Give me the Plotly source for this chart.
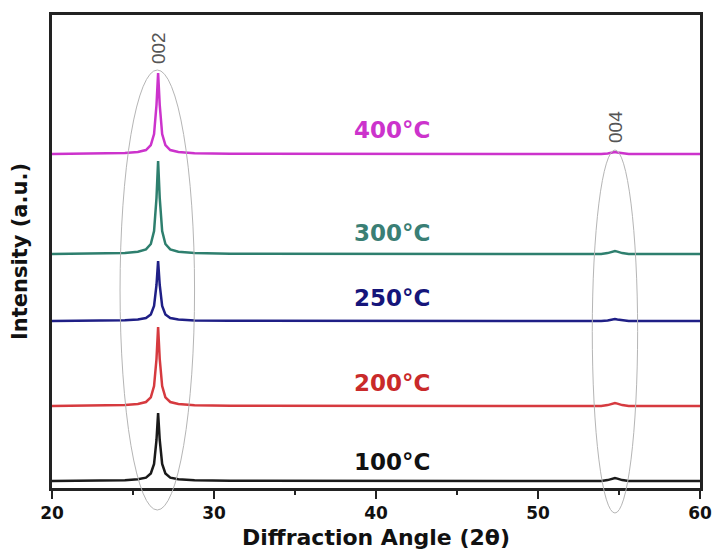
import plotly.graph_objects as go

# 2-theta sample points (degrees)
two_theta = [20, 23, 24.5, 25.3, 25.8, 26.1, 26.3, 26.45, 26.55, 26.65, 26.8, 27.0, 27.3,
             27.8, 28.8, 31, 40, 50, 53.9, 54.3, 54.6, 54.75, 54.9, 55.2, 55.6, 60]

labels = ["100°C", "200°C", "250°C", "300°C", "400°C"]
offsets = [0, 75, 160, 227, 327]

i_100 = [0, 0.3, 0.8, 1.7, 3.4, 7.5, 17, 41, 68, 41, 17, 7.5, 3.4, 1.7, 0.7, 0.2, 0, 0, 0, 0.9, 2.4, 3, 2.4, 0.9, 0, 0]
i_200 = [0, 0.4, 0.9, 2, 4, 8.7, 20, 47, 79, 47, 20, 8.7, 4, 2, 0.8, 0.2, 0, 0, 0, 0.9, 2.4, 3, 2.4, 0.9, 0, 0]
i_250 = [0, 0.3, 0.7, 1.5, 3, 6.6, 15, 36, 60, 36, 15, 6.6, 3, 1.5, 0.6, 0.2, 0, 0, 0, 0.6, 1.6, 2, 1.6, 0.6, 0, 0]
i_300 = [0, 0.5, 1.1, 2.3, 4.6, 10, 23, 56, 93, 56, 23, 10, 4.6, 2.3, 0.9, 0.3, 0, 0, 0, 0.9, 2.4, 3, 2.4, 0.9, 0, 0]
i_400 = [0, 0.4, 1, 2, 4, 9, 20, 49, 81, 49, 20, 9, 4, 2, 0.8, 0.2, 0, 0, 0, 0.6, 1.6, 2, 1.6, 0.6, 0, 0]
intensities = [i_100, i_200, i_250, i_300, i_400]

line_colors = ["#1a1a1a", "#d63a3f", "#1f1f86", "#2e7f6e", "#cc33cc"]
text_colors = ["#111111", "#c92a2a", "#15157a", "#3a7f75", "#cc33cc"]
label_y = [19, 98, 183, 248, 351]

peak_labels = ["002", "004"]
peak_pos = [26.55, 54.75]
peak_label_y = [433, 354]

y_range = [-7, 466]
# ellipses around the reflections: (x0, x1, y_bottom, y_top) in data units
ellipses = [(24.2, 28.8, -29, 411), (53.35, 56.15, -32, 331)]

FONT = "DejaVu Sans"

fig = go.Figure()
for lab, off, ints, col in zip(labels, offsets, intensities, line_colors):
    fig.add_trace(go.Scatter(x=two_theta, y=[v + off for v in ints], mode="lines",
                             line=dict(color=col, width=2.5), name=lab,
                             showlegend=False, hoverinfo="skip"))

span = y_range[1] - y_range[0]
for x0, x1, yb, yt in ellipses:
    fig.add_shape(type="circle", xref="x", yref="paper", x0=x0, x1=x1,
                  y0=(yb - y_range[0]) / span, y1=(yt - y_range[0]) / span,
                  line=dict(color="#b5b5b5", width=1), layer="above")

for lab, ly, col in zip(labels, label_y, text_colors):
    fig.add_annotation(x=41.0, y=ly, text=lab, showarrow=False,
                       font=dict(family=FONT, size=23, color=col, weight="bold"))

for lab, px, py in zip(peak_labels, peak_pos, peak_label_y):
    fig.add_annotation(x=px, y=py, text=lab, showarrow=False, textangle=-90,
                       font=dict(family="Liberation Sans", size=19, color="#555555"))

fig.update_layout(
    width=716, height=550,
    margin=dict(l=52, r=16, t=15, b=62, autoexpand=False),
    plot_bgcolor="white", paper_bgcolor="white",
    font=dict(family=FONT, color="#111111"),
    xaxis=dict(range=[20, 60], dtick=10, tick0=20, showgrid=False, zeroline=False,
               automargin=False,
               showline=True, mirror=True, linecolor="#222222", linewidth=2.5,
               ticks="outside", ticklen=8, tickwidth=2, tickcolor="#222222",
               minor=dict(dtick=5, ticks="outside", ticklen=4, tickwidth=2, tickcolor="#222222"),
               tickfont=dict(family=FONT, size=17, color="#111111", weight="bold"),
               title=dict(text="Diffraction Angle (2θ)", standoff=8,
                          font=dict(family=FONT, size=22, color="#111111", weight="bold"))),
    yaxis=dict(range=y_range, showgrid=False, zeroline=False, showticklabels=False,
               automargin=False,
               showline=True, mirror=True, linecolor="#222222", linewidth=2.5, ticks="",
               title=dict(text="Intensity (a.u.)", standoff=16,
                          font=dict(family=FONT, size=21, color="#111111", weight="bold"))),
)

fig.write_html("out.html")
